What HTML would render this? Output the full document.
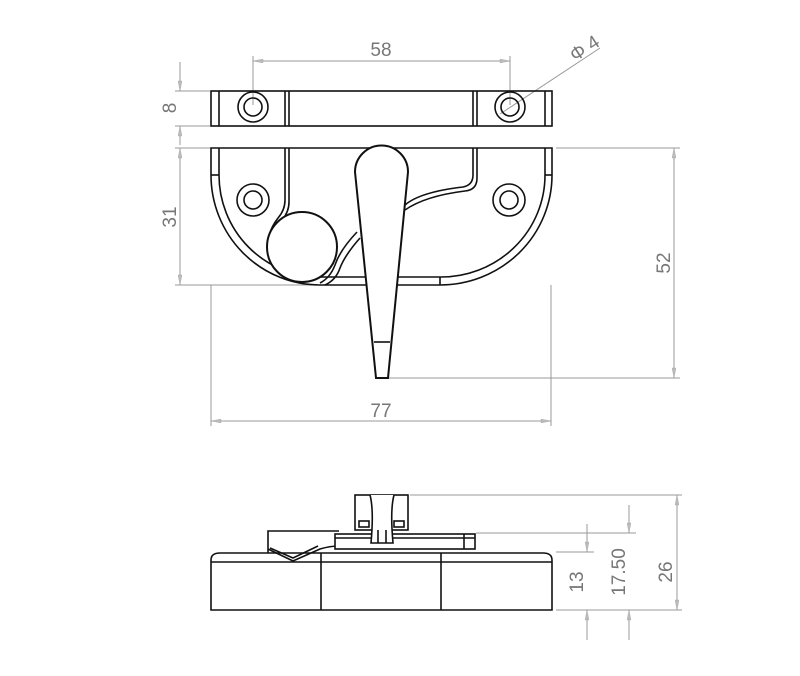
<!DOCTYPE html>
<html><head><style>body{margin:0;background:#fff}svg{display:block}text{font-family:"Liberation Sans",sans-serif;fill:#777;font-size:19px}</style></head><body>
<svg width="800" height="676" viewBox="0 0 800 676" xmlns="http://www.w3.org/2000/svg">
<defs><marker id="a" viewBox="0 0 10 4" refX="10" refY="2" markerWidth="12" markerHeight="4" markerUnits="userSpaceOnUse" orient="auto-start-reverse"><path d="M0,0L10,2L0,4z" fill="#bbb" stroke="#999" stroke-width="0.3"/></marker></defs>
<g stroke="#999" stroke-width="1" fill="none">
<!-- 58 -->
<line x1="253" y1="56" x2="253" y2="105"/><line x1="510" y1="56" x2="510" y2="105"/>
<line x1="253" y1="61" x2="510" y2="61" marker-start="url(#a)" marker-end="url(#a)"/>
<!-- phi4 -->
<line x1="500" y1="114" x2="600" y2="48"/>
<!-- 8 -->
<line x1="175" y1="91" x2="210" y2="91"/><line x1="175" y1="126" x2="210" y2="126"/>
<line x1="180" y1="62" x2="180" y2="91" marker-end="url(#a)"/><line x1="180" y1="145" x2="180" y2="126" marker-end="url(#a)"/>
<!-- 31 -->
<line x1="175" y1="148" x2="210" y2="148"/><line x1="175" y1="285" x2="320" y2="285"/>
<line x1="180" y1="148" x2="180" y2="285" marker-start="url(#a)" marker-end="url(#a)"/>
<!-- 52 -->
<line x1="556" y1="148" x2="680" y2="148"/><line x1="388" y1="378" x2="680" y2="378"/>
<line x1="674" y1="148" x2="674" y2="378" marker-start="url(#a)" marker-end="url(#a)"/>
<!-- 77 -->
<line x1="211" y1="285" x2="211" y2="426"/><line x1="551" y1="285" x2="551" y2="426"/>
<line x1="211" y1="421" x2="551" y2="421" marker-start="url(#a)" marker-end="url(#a)"/>
<!-- side dims -->
<line x1="410" y1="495" x2="682" y2="495"/><line x1="476" y1="533" x2="636" y2="533"/>
<line x1="556" y1="552" x2="594" y2="552"/><line x1="556" y1="610" x2="682" y2="610"/>
<line x1="587" y1="524" x2="587" y2="552" marker-end="url(#a)"/><line x1="587" y1="640" x2="587" y2="610" marker-end="url(#a)"/>
<line x1="629" y1="505" x2="629" y2="533" marker-end="url(#a)"/><line x1="629" y1="640" x2="629" y2="610" marker-end="url(#a)"/>
<line x1="677" y1="495" x2="677" y2="610" marker-start="url(#a)" marker-end="url(#a)"/>
</g>
<text x="381" y="56" text-anchor="middle">58</text>
<text transform="translate(575,62) rotate(-33)">Φ 4</text>
<text transform="translate(176,108) rotate(-90)" text-anchor="middle">8</text>
<text transform="translate(176,217) rotate(-90)" text-anchor="middle">31</text>
<text transform="translate(670,263) rotate(-90)" text-anchor="middle">52</text>
<text x="381" y="417" text-anchor="middle">77</text>
<text transform="translate(583,582) rotate(-90)" text-anchor="middle">13</text>
<text transform="translate(625,572) rotate(-90)" text-anchor="middle">17.50</text>
<text transform="translate(672,572) rotate(-90)" text-anchor="middle">26</text>
<g stroke="#111" stroke-width="1.6" fill="none">
<!-- top bar -->
<rect x="211" y="91" width="341" height="35"/>
<line x1="219" y1="91" x2="219" y2="126"/><line x1="285" y1="91" x2="285" y2="126"/><line x1="289" y1="91" x2="289" y2="126"/>
<line x1="473" y1="91" x2="473" y2="126"/><line x1="477" y1="91" x2="477" y2="126"/><line x1="545" y1="91" x2="545" y2="126"/>
<circle cx="253" cy="107" r="15"/><circle cx="253" cy="107" r="9"/>
<circle cx="510" cy="107" r="15"/><circle cx="510" cy="107" r="9"/>
<!-- front -->
<path d="M211,148 H552 V175 A112,110 0 0 1 440,285 H320 A109,110 0 0 1 211,175 Z"/>
<path d="M219,148 V175 A101,102 0 0 0 320,277 H440 A104,102 0 0 0 545,175 V148"/>
<line x1="211" y1="175" x2="219" y2="175"/><line x1="545" y1="175" x2="552" y2="175"/><line x1="440" y1="277" x2="440" y2="285"/>
<path d="M285,148 V200 Q285,210 278,218 Q265,235 270,250"/>
<path d="M289,148 V202 Q289,212 282,220"/>
<path d="M473,148 V175 Q473,185 463,187 Q420,192 405,205"/>
<path d="M477,148 V178 Q477,190 465,191 Q425,196 405,210"/>
<path d="M357,232 Q340,250 335,265 Q330,278 320,283"/>
<path d="M360,238 Q345,255 340,268 Q336,280 325,285"/>
<circle cx="253" cy="200" r="16"/><circle cx="253" cy="200" r="9"/>
<circle cx="509" cy="200" r="16"/><circle cx="509" cy="200" r="9"/>
<circle cx="302" cy="247" r="35" fill="#fff" stroke-width="2"/>
<path d="M355,172 A23,23 0 0 1 408,172 L388,378 H376 Z" fill="#fff" stroke-width="2"/>
<line x1="374" y1="342" x2="390" y2="342"/>
<!-- side -->
<path d="M211,610 V560 Q211,553 220,553 H543 Q552,553 552,560 V610 Z"/>
<line x1="211" y1="562" x2="552" y2="562"/>
<line x1="321" y1="553" x2="321" y2="610"/><line x1="441" y1="553" x2="441" y2="610"/>
<path d="M268,553 V531 H339 M268,549 L293,561 L320,549 Q330,546 339,546"/>
<path d="M270,548 L293,558 L318,546"/>
<rect x="335" y="534" width="140" height="15" fill="#fff"/>
<line x1="464" y1="534" x2="464" y2="549"/><line x1="335" y1="538" x2="475" y2="538"/>
<rect x="355" y="495" width="53" height="35" fill="#fff"/>
<rect x="359" y="521" width="10" height="6"/><rect x="394" y="521" width="10" height="6"/>
<path d="M370,495 Q374,510 371,543 H393 Q390,510 394,495" fill="#fff"/>
<line x1="378" y1="530" x2="378" y2="543"/><line x1="386" y1="530" x2="386" y2="543"/>
</g>
</svg>
</body></html>
